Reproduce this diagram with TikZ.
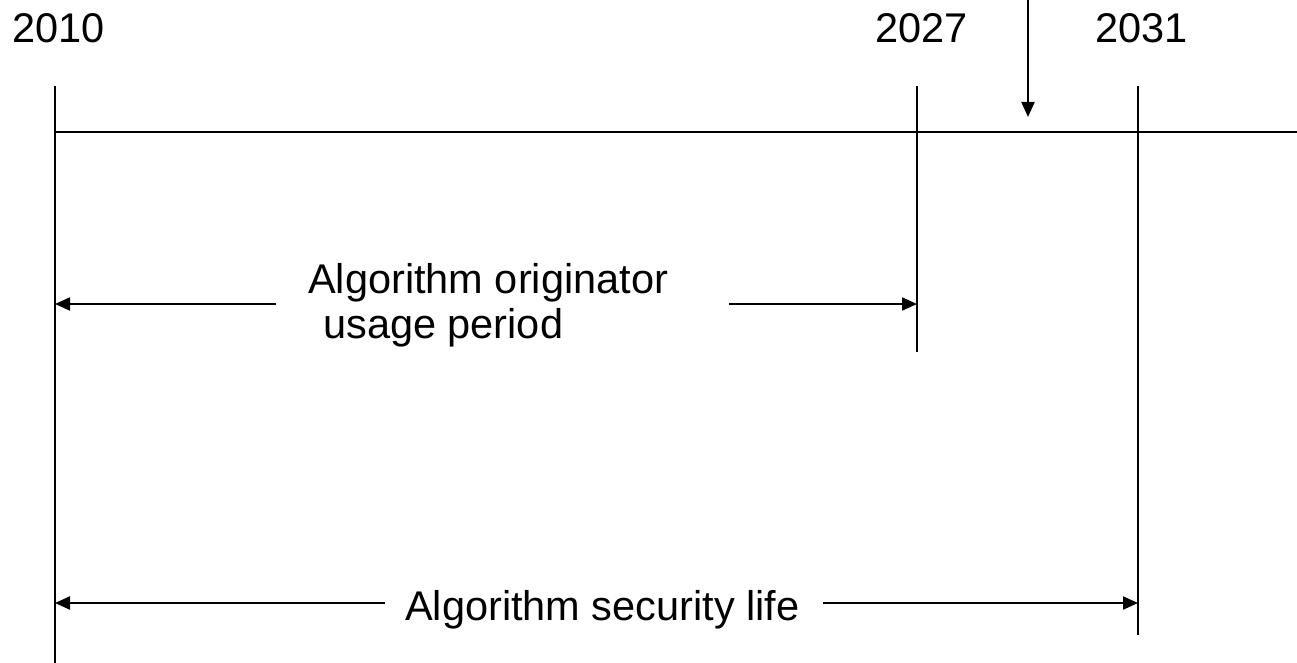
\documentclass[tikz,border=0pt]{standalone}
\usepackage{fontspec}
\setmainfont{Liberation Sans}
\usetikzlibrary{arrows.meta}
\begin{document}
\begin{tikzpicture}[x=1pt,y=-1pt,
  lbl/.style={inner sep=0pt,anchor=base west,font=\fontsize{41.5}{45}\selectfont},
  ln/.style={line width=2pt},
  arr/.style={line width=2.2pt,-{Triangle[length=15pt,width=13pt]}}]
\useasboundingbox (0,0) rectangle (1297,663);
% coordinates
\coordinate (tA) at (55,86);
\coordinate (bA) at (55,663);
\coordinate (tB) at (917,86);
\coordinate (bB) at (917,352);
\coordinate (tC) at (1138,86);
\coordinate (bC) at (1138,635);
\coordinate (hL) at (55,132);
\coordinate (hR) at (1297,132);
\coordinate (dT) at (1028,0);
\coordinate (dB) at (1028,117);
\coordinate (uA) at (55,304);
\coordinate (uB) at (917,304);
\coordinate (lA) at (55,603);
\coordinate (lC) at (1138,603);
% lines
\draw[ln] (tA) -- (bA);
\draw[ln] (tB) -- (bB);
\draw[ln] (tC) -- (bC);
\draw[ln] (hL) -- (hR);
\draw[arr] (dT) -- (dB);
% labels
\node[lbl] (y2010) at (12,43) {2010};
\node[lbl] (y2027) at (875,43) {2027};
\node[lbl] (y2031) at (1095,43) {2031};
\node[lbl] (orig1) at (308,293) {Algorithm originator};
\node[lbl] (orig2) at (323,338) {usage period};
\node[lbl] (sec) at (405,620) {Algorithm security life};
% arrows
\coordinate (uL) at (276,304);
\coordinate (uR) at (729,304);
\coordinate (lL) at (385,603);
\coordinate (lR) at (823,603);
\draw[arr] (uL) -- (uA);
\draw[arr] (uR) -- (uB);
\draw[arr] (lL) -- (lA);
\draw[arr] (lR) -- (lC);
\end{tikzpicture}
\end{document}
